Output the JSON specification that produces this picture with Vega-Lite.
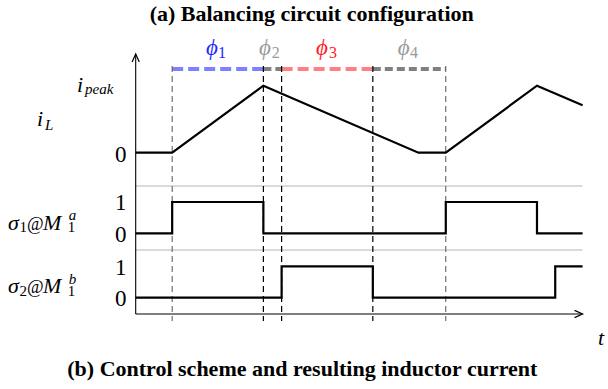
{
  "$schema": "https://vega.github.io/schema/vega-lite/v6.json",
  "width": 608,
  "height": 389,
  "padding": 0,
  "autosize": {"type": "none"},
  "config": {"view": {"stroke": null}},
  "encoding": {
    "x": {"field": "x", "type": "quantitative", "scale": {"domain": [-14.879, 51.787], "nice": false, "zero": false}, "axis": null},
    "y": {"field": "y", "type": "quantitative", "scale": {"domain": [-4.6875, 19.625], "nice": false, "zero": false}, "axis": null}
  },
  "layer": [
    {
      "data": {"values": [{"x": 0, "x2": 49, "y": 8}, {"x": 0, "x2": 49, "y": 4}]},
      "mark": {"type": "rule", "color": "#b5b5b5", "strokeWidth": 1},
      "encoding": {"x2": {"field": "x2"}}
    },
    {
      "data": {"values": [{"x": 4, "x2": 14, "y": 15.31}]},
      "mark": {"type": "rule", "strokeWidth": 4, "color": "#8080ff", "strokeDash": [11, 5]},
      "encoding": {"x2": {"field": "x2"}}
    },
    {
      "data": {"values": [{"x": 16, "x2": 26, "y": 15.31}]},
      "mark": {"type": "rule", "strokeWidth": 4, "color": "#ff8080", "strokeDash": [11, 5]},
      "encoding": {"x2": {"field": "x2"}}
    },
    {
      "data": {"values": [{"x": 14, "x2": 16, "y": 15.31}, {"x": 26, "x2": 34, "y": 15.31}]},
      "mark": {"type": "rule", "strokeWidth": 4, "color": "#808080", "strokeDash": [8, 4]},
      "encoding": {"x2": {"field": "x2"}}
    },
    {
      "data": {"values": [
        {"x": 4, "y": 15.5, "y2": -0.44},
        {"x": 34, "y": 15.5, "y2": -0.44}
      ]},
      "mark": {"type": "rule", "color": "#555555", "strokeWidth": 1, "strokeDash": [6, 4]},
      "encoding": {"y2": {"field": "y2"}}
    },
    {
      "data": {"values": [
        {"x": 14, "y": 15.5, "y2": -0.44},
        {"x": 16, "y": 15.5, "y2": -0.44},
        {"x": 26, "y": 15.5, "y2": -0.44}
      ]},
      "mark": {"type": "rule", "color": "#000000", "strokeWidth": 1.2, "strokeDash": [6, 4]},
      "encoding": {"y2": {"field": "y2"}}
    },
    {
      "data": {"values": [
        {"signal": "iL", "i": 0, "x": 0, "y": 10.08},
        {"signal": "iL", "i": 1, "x": 4, "y": 10.08},
        {"signal": "iL", "i": 2, "x": 14, "y": 14.27},
        {"signal": "iL", "i": 3, "x": 31, "y": 10.08},
        {"signal": "iL", "i": 4, "x": 34, "y": 10.08},
        {"signal": "iL", "i": 5, "x": 44, "y": 14.27},
        {"signal": "iL", "i": 6, "x": 49, "y": 13.04},
        {"signal": "s1", "i": 0, "x": 0, "y": 5.04},
        {"signal": "s1", "i": 1, "x": 4, "y": 5.04},
        {"signal": "s1", "i": 2, "x": 4, "y": 7},
        {"signal": "s1", "i": 3, "x": 14, "y": 7},
        {"signal": "s1", "i": 4, "x": 14, "y": 5.04},
        {"signal": "s1", "i": 5, "x": 34, "y": 5.04},
        {"signal": "s1", "i": 6, "x": 34, "y": 7},
        {"signal": "s1", "i": 7, "x": 44, "y": 7},
        {"signal": "s1", "i": 8, "x": 44, "y": 5.04},
        {"signal": "s1", "i": 9, "x": 49, "y": 5.04},
        {"signal": "s2", "i": 0, "x": 0, "y": 1.02},
        {"signal": "s2", "i": 1, "x": 16, "y": 1.02},
        {"signal": "s2", "i": 2, "x": 16, "y": 2.98},
        {"signal": "s2", "i": 3, "x": 26, "y": 2.98},
        {"signal": "s2", "i": 4, "x": 26, "y": 1.02},
        {"signal": "s2", "i": 5, "x": 46, "y": 1.02},
        {"signal": "s2", "i": 6, "x": 46, "y": 2.98},
        {"signal": "s2", "i": 7, "x": 49, "y": 2.98}
      ]},
      "mark": {"type": "line", "color": "#000000", "strokeWidth": 2.2, "strokeJoin": "miter"},
      "encoding": {
        "detail": {"field": "signal", "type": "nominal"},
        "order": {"field": "i", "type": "quantitative"}
      }
    },
    {
      "data": {"values": [{"x": 0, "x2": 49, "y": 0}]},
      "mark": {"type": "rule", "color": "#000000", "strokeWidth": 1.1},
      "encoding": {"x2": {"field": "x2"}}
    },
    {
      "data": {"values": [{"x": 0, "y": 0, "y2": 16.25}]},
      "mark": {"type": "rule", "color": "#000000", "strokeWidth": 1.1},
      "encoding": {"y2": {"field": "y2"}}
    },
    {
      "data": {"values": [{"x": 49, "y": 0}]},
      "mark": {"type": "point", "shape": "M-1,-0.45L0,0L-1,0.45", "filled": false, "stroke": "#000000", "strokeWidth": 1.2, "size": 256, "opacity": 1}
    },
    {
      "data": {"values": [{"x": 0, "y": 16.25}]},
      "mark": {"type": "point", "shape": "M-0.45,1L0,0L0.45,1", "filled": false, "stroke": "#000000", "strokeWidth": 1.2, "size": 256, "opacity": 1}
    },
    {
      "data": {"values": [
        {"x": 19.30, "y": 18.3, "text": "(a) Balancing circuit configuration"},
        {"x": 18.27, "y": -3.875, "text": "(b) Control scheme and resulting inductor current"}
      ]},
      "mark": {"type": "text", "font": "serif", "fontWeight": "bold", "fontSize": 22, "align": "center", "baseline": "alphabetic"},
      "encoding": {"text": {"field": "text"}}
    },
    {
      "data": {"values": [
        {"x": -6.436, "y": 13.906, "text": "i"},
        {"x": -10.82, "y": 11.75, "text": "i"},
        {"x": -14.0, "y": 5.281, "text": "σ"},
        {"x": -10.16, "y": 5.281, "text": "M"},
        {"x": -14.0, "y": 1.294, "text": "σ"},
        {"x": -10.16, "y": 1.294, "text": "M"},
        {"x": 50.69, "y": -1.9375, "text": "t"}
      ]},
      "mark": {"type": "text", "font": "serif", "fontStyle": "italic", "fontSize": 22, "align": "left", "baseline": "alphabetic"},
      "encoding": {"text": {"field": "text"}}
    },
    {
      "data": {"values": [
        {"x": -11.0, "y": 5.281, "text": "@"},
        {"x": -11.0, "y": 1.294, "text": "@"}
      ]},
      "mark": {"type": "text", "font": "serif", "fontSize": 18, "align": "center", "baseline": "alphabetic"},
      "encoding": {"text": {"field": "text"}}
    },
    {
      "data": {"values": [
        {"x": -1.009, "y": 9.52, "text": "0"},
        {"x": -1.009, "y": 6.47, "text": "1"},
        {"x": -1.009, "y": 4.51, "text": "0"},
        {"x": -1.009, "y": 2.45, "text": "1"},
        {"x": -1.009, "y": 0.4875, "text": "0"}
      ]},
      "mark": {"type": "text", "font": "serif", "fontSize": 23, "align": "right", "baseline": "alphabetic"},
      "encoding": {"text": {"field": "text"}}
    },
    {
      "data": {"values": [
        {"x": -5.559, "y": 13.72, "text": "peak"},
        {"x": -9.945, "y": 11.5, "text": "L"},
        {"x": -7.35, "y": 5.875, "text": "a"},
        {"x": -7.35, "y": 1.8875, "text": "b"}
      ]},
      "mark": {"type": "text", "font": "serif", "fontStyle": "italic", "fontSize": 15, "align": "left", "baseline": "alphabetic"},
      "encoding": {"text": {"field": "text"}}
    },
    {
      "data": {"values": [
        {"x": -12.75, "y": 5.094, "text": "1"},
        {"x": -7.45, "y": 5.094, "text": "1"},
        {"x": -12.75, "y": 1.106, "text": "2"},
        {"x": -7.45, "y": 1.106, "text": "1"}
      ]},
      "mark": {"type": "text", "font": "serif", "fontSize": 15, "align": "left", "baseline": "alphabetic"},
      "encoding": {"text": {"field": "text"}}
    },
    {
      "data": {"values": [{"x": 7.708, "y": 16.19, "text": "ϕ"}]},
      "mark": {"type": "text", "font": "serif", "fontStyle": "italic", "fontSize": 23, "align": "left", "baseline": "alphabetic", "color": "#2424ff"},
      "encoding": {"text": {"field": "text"}}
    },
    {
      "data": {"values": [{"x": 9.02, "y": 15.98, "text": "1"}]},
      "mark": {"type": "text", "font": "serif", "fontSize": 16, "align": "left", "baseline": "alphabetic", "color": "#2424ff"},
      "encoding": {"text": {"field": "text"}}
    },
    {
      "data": {"values": [{"x": 19.77, "y": 16.19, "text": "ϕ"}]},
      "mark": {"type": "text", "font": "serif", "fontStyle": "italic", "fontSize": 23, "align": "left", "baseline": "alphabetic", "color": "#ff1a1a"},
      "encoding": {"text": {"field": "text"}}
    },
    {
      "data": {"values": [{"x": 21.2, "y": 15.98, "text": "3"}]},
      "mark": {"type": "text", "font": "serif", "fontSize": 16, "align": "left", "baseline": "alphabetic", "color": "#ff1a1a"},
      "encoding": {"text": {"field": "text"}}
    },
    {
      "data": {"values": [
        {"x": 13.52, "y": 16.19, "text": "ϕ"},
        {"x": 28.73, "y": 16.19, "text": "ϕ"}
      ]},
      "mark": {"type": "text", "font": "serif", "fontStyle": "italic", "fontSize": 23, "align": "left", "baseline": "alphabetic", "color": "#999999"},
      "encoding": {"text": {"field": "text"}}
    },
    {
      "data": {"values": [
        {"x": 14.91, "y": 15.98, "text": "2"},
        {"x": 30.08, "y": 15.98, "text": "4"}
      ]},
      "mark": {"type": "text", "font": "serif", "fontSize": 16, "align": "left", "baseline": "alphabetic", "color": "#999999"},
      "encoding": {"text": {"field": "text"}}
    }
  ]
}
